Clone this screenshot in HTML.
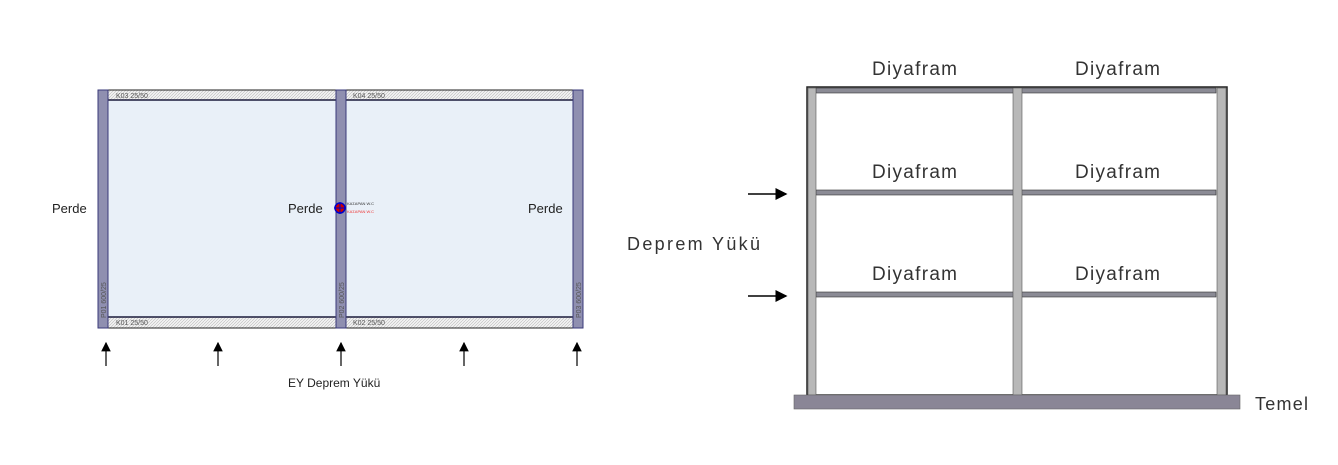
<!DOCTYPE html>
<html><head><meta charset="utf-8"><style>
body{margin:0;background:#fff;width:1338px;height:460px;overflow:hidden}
</style></head><body>
<svg width="1338" height="460" xmlns="http://www.w3.org/2000/svg" font-family="Liberation Sans, sans-serif">
<defs>
<pattern id="h" width="3" height="3" patternUnits="userSpaceOnUse"><rect width="3" height="3" fill="#f2f2f2"/><path d="M0 3L3 0" stroke="#bbb" stroke-width="0.6"/></pattern>
<marker id="a" markerWidth="8" markerHeight="8" refX="7" refY="4" orient="auto"><path d="M0 0L8 4L0 8z" fill="#000"/></marker>
</defs>
<!-- left plan -->
<rect x="103" y="100" width="475" height="217" fill="#e9f0f8"/>
<rect x="103" y="90" width="475" height="10" fill="url(#h)" stroke="#222" stroke-width="1"/>
<rect x="103" y="317" width="475" height="11" fill="url(#h)" stroke="#222" stroke-width="1"/>
<line x1="103" y1="100" x2="578" y2="100" stroke="#1a1a3a" stroke-width="1.5"/>
<line x1="103" y1="317" x2="578" y2="317" stroke="#1a1a3a" stroke-width="1.5"/>
<rect x="98" y="90" width="10" height="238" fill="#8f8fb0" stroke="#3a3a7a"/>
<rect x="336" y="90" width="10" height="238" fill="#8f8fb0" stroke="#3a3a7a"/>
<rect x="573" y="90" width="10" height="238" fill="#8f8fb0" stroke="#3a3a7a"/>
<g font-size="7" fill="#555">
<text x="116" y="98">K03 25/50</text><text x="353" y="98">K04 25/50</text>
<text x="116" y="325">K01 25/50</text><text x="353" y="325">K02 25/50</text>
<text transform="translate(106,318) rotate(-90)">P01 600/25</text>
<text transform="translate(344,318) rotate(-90)">P02 600/25</text>
<text transform="translate(581,318) rotate(-90)">P03 600/25</text>
</g>
<circle cx="340" cy="208" r="5" fill="#c00" stroke="#00c" stroke-width="1.5"/>
<line x1="334" y1="208" x2="346" y2="208" stroke="#00c"/><line x1="340" y1="202" x2="340" y2="214" stroke="#00c"/>
<text x="347" y="205" font-size="4" fill="#333">ΚΑΣΑΡΑΝ W.C</text>
<text x="347" y="213" font-size="4" fill="#e33">ΚΑΣΑΡΑΝ W.C</text>
<g font-size="13" fill="#222">
<text x="52" y="213">Perde</text><text x="288" y="213">Perde</text><text x="528" y="213">Perde</text>
<text x="288" y="387" font-size="12">EY Deprem Yükü</text>
</g>
<g stroke="#000" stroke-width="1.2" marker-end="url(#a)">
<line x1="106" y1="366" x2="106" y2="343"/><line x1="218" y1="366" x2="218" y2="343"/>
<line x1="341" y1="366" x2="341" y2="343"/><line x1="464" y1="366" x2="464" y2="343"/>
<line x1="577" y1="366" x2="577" y2="343"/>
</g>
<!-- right frame -->
<rect x="807" y="87" width="420" height="308" fill="#fff" stroke="#222" stroke-width="1.5"/>
<g fill="#8b8b95" stroke="#333" stroke-width="0.6">
<rect x="816" y="88" width="400" height="5"/>
<rect x="816" y="190" width="400" height="5"/>
<rect x="816" y="292" width="400" height="5"/>
</g>
<g fill="#b8b8b8" stroke="#555" stroke-width="0.6">
<rect x="808" y="88" width="8" height="307"/>
<rect x="1013" y="88" width="9" height="307"/>
<rect x="1217" y="88" width="9" height="307"/>
</g>
<rect x="794" y="395" width="446" height="14" fill="#8a8696" stroke="#666" stroke-width="0.6"/>
<g font-size="19" fill="#333">
<text x="872" y="75" textLength="85">Diyafram</text><text x="1075" y="75" textLength="85">Diyafram</text>
<text x="872" y="178" textLength="85">Diyafram</text><text x="1075" y="178" textLength="85">Diyafram</text>
<text x="872" y="280" textLength="85">Diyafram</text><text x="1075" y="280" textLength="85">Diyafram</text>
<text x="627" y="250" font-size="18" textLength="133">Deprem Yükü</text>
<text x="1255" y="410" font-size="18" textLength="53">Temel</text>
</g>
<g stroke="#000" stroke-width="1.5" marker-end="url(#a)">
<line x1="748" y1="194" x2="786" y2="194"/><line x1="748" y1="296" x2="786" y2="296"/>
</g>
</svg>
</body></html>
